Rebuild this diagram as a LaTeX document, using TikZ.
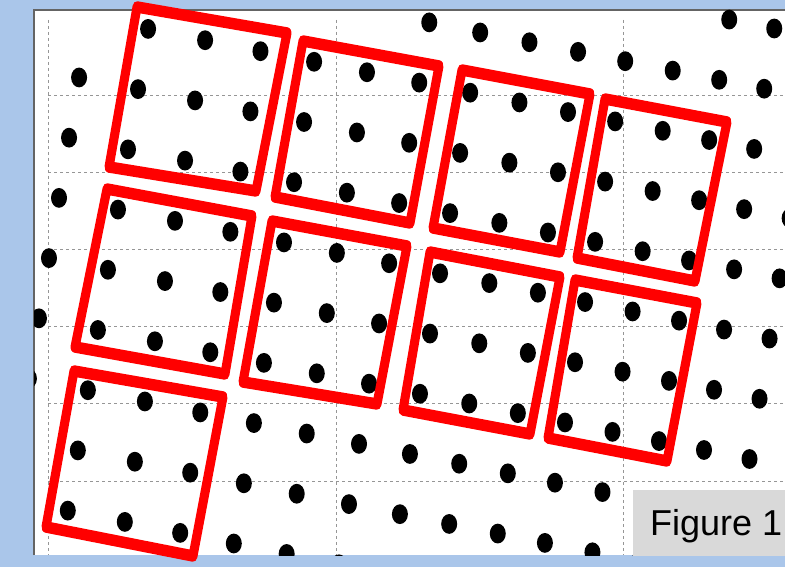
\documentclass[tikz,border=0pt]{standalone}
\usepackage{fontspec}
\setmainfont{Liberation Sans}
\definecolor{bgblue}{RGB}{170,198,234}
\definecolor{gridgray}{RGB}{150,150,150}
\definecolor{framegray}{RGB}{100,100,100}
\definecolor{labelgray}{RGB}{217,217,217}
\begin{document}
\begin{tikzpicture}[x=1pt, y=-1pt,
  gridline/.style={draw=gridgray, line width=0.9pt, dash pattern=on 3pt off 3pt},
  cellbox/.style={draw=red, line width=9pt, line join=round},
  atom/.style={fill=black},
  figtag/.style={anchor=base west, inner sep=0pt, font=\fontsize{36}{40}\selectfont},
]
\useasboundingbox (0,0) rectangle (785,567);
% background and plot area
\fill[bgblue] (0,0) rectangle (785,567);
\fill[white] (34,10) rectangle (785,555);
\draw[framegray, line width=1.2pt] (34,555) -- (34,10) -- (785,10);

% grid
\foreach \gy in {95,172,249,326,403,481}
  \draw[gridline] (48,\gy) -- (785,\gy);
\foreach \gx in {48,336,623}
  \draw[gridline] (\gx,20) -- (\gx,555);

% lattice of dots
\begin{scope}
\clip (34,10) rectangle (785,555);
\foreach \r in {-2,...,8}{
  \foreach \c in {92,152.9,211.8,269,324.4,379,433,485.6,536.5,586.7,635.4,684.5,732.5,779,826}{
    \pgfmathsetmacro\rowy{62.2*\r-0.4}
    \pgfmathsetmacro\dotx{(\c-\rowy/6)/1.033}
    \pgfmathsetmacro\doty{0.198*\dotx+\rowy}
    \pgfmathtruncatemacro\dotkeep{\doty>19}
    \ifnum\dotkeep=1
      \fill[atom] (\dotx,\doty) ellipse [x radius=8pt, y radius=9.9pt];
    \fi
  }
}
\end{scope}

% cells (stretched canvas: flat sides come out thicker)
\begin{scope}[transform canvas={yscale=1.28}, y=-0.78125pt]
% top row
\draw[cellbox] (137,7) -- (287,33) -- (256,191) -- (109,167) -- cycle;
\draw[cellbox] (303,41) -- (439,66) -- (410,223) -- (275,197) -- cycle;
\draw[cellbox] (462,70) -- (590,94) -- (560,252) -- (433,228) -- cycle;
\draw[cellbox] (605,99) -- (727,122) -- (695,281) -- (577,258) -- cycle;
% middle row
\draw[cellbox] (107,189) -- (252,216) -- (225,374) -- (75,347) -- cycle;
\draw[cellbox] (272,221) -- (407,246) -- (377,404) -- (243,382) -- cycle;
\draw[cellbox] (430,252) -- (560,277) -- (530,434) -- (403,410) -- cycle;
\draw[cellbox] (575,280) -- (697,303) -- (667,461) -- (548,438) -- cycle;
% bottom
\draw[cellbox] (74,371) -- (223,397) -- (193,556) -- (46,527) -- cycle;
\end{scope}

% label
\fill[labelgray] (633,490) rectangle (790,556);
\node[figtag] (figlabel) at (650,535) {Figure 1};
\end{tikzpicture}
\end{document}
